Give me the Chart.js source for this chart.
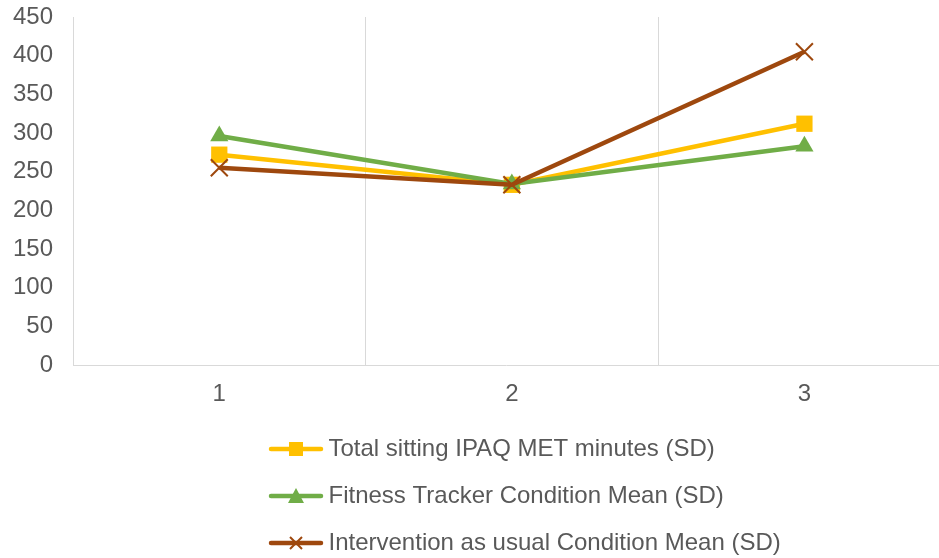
<!DOCTYPE html>
<html>
<head>
<meta charset="utf-8">
<script src="https://cdn.jsdelivr.net/npm/chart.js@4.4.0/dist/chart.umd.min.js"></script>
<style>
  html, body { margin: 0; padding: 0; background: #fff; overflow: hidden; }
  canvas { display: block; }
</style>
</head>
<body>
<canvas id="sittingChart" width="939" height="558"></canvas>
<script>
// chart data
const categories = [1, 2, 3];
const xLabels = ['1', '2', '3'];
const yTickStep = 50;
const yMax = 450;
const seriesNames = [
    'Total sitting IPAQ MET minutes (SD)',
    'Fitness Tracker Condition Mean (SD)',
    'Intervention as usual Condition Mean (SD)'
];
const totalSitting = [272, 233, 312];
const fitnessTracker = [296, 234, 283];
const interventionUsual = [255, 233, 405];

// styles
const seriesColors = ['#FFC000', '#70AD47', '#9E480E'];
const textColor = '#595959';
const lineColor = '#D9D9D9';
const clear = 'rgba(0,0,0,0)';

Chart.defaults.font.family = '"Liberation Sans", Arial, sans-serif';
Chart.defaults.font.size = 24;
Chart.defaults.color = textColor;

function toPoints(values) {
    return values.map((v, i) => ({ x: categories[i], y: v }));
}

// little line + marker pictures for the legend (Excel style)
function legendIcon(color, shape) {
    const c = document.createElement('canvas');
    c.width = 56;
    c.height = 20;
    const g = c.getContext('2d');
    g.strokeStyle = color;
    g.fillStyle = color;
    g.lineWidth = 4.5;
    g.lineCap = 'round';
    g.beginPath();
    g.moveTo(3, 10);
    g.lineTo(53, 10);
    g.stroke();
    if (shape === 'rect') {
        g.fillRect(21, 3, 14, 14);
    } else if (shape === 'triangle') {
        g.beginPath();
        g.moveTo(28, 2);
        g.lineTo(36, 17);
        g.lineTo(20, 17);
        g.closePath();
        g.fill();
    } else {
        g.lineWidth = 2;
        g.lineCap = 'butt';
        g.beginPath();
        g.moveTo(22, 4); g.lineTo(34, 16);
        g.moveTo(34, 4); g.lineTo(22, 16);
        g.stroke();
    }
    return c;
}

const pointShapes = ['rect', 'triangle', 'crossRot'];
const pointSizes = [11.5, 10.5, 12];
const legendIcons = seriesColors.map((col, i) => legendIcon(col, pointShapes[i]));

const seriesValues = [totalSitting, fitnessTracker, interventionUsual];
const datasets = seriesValues.map((vals, i) => ({
    label: seriesNames[i],
    data: toPoints(vals),
    borderColor: seriesColors[i],
    backgroundColor: seriesColors[i],
    borderWidth: 4.5,
    pointStyle: pointShapes[i],
    pointRadius: pointSizes[i],
    pointHoverRadius: pointSizes[i],
    pointBorderWidth: i === 2 ? 2 : 0,
    pointBorderColor: seriesColors[i],
    pointBackgroundColor: seriesColors[i],
    tension: 0,
    order: 2 - i
}));

// keep the legend rows starting at the same x, like the Excel legend
const legendX = 275.5;
const legendRows = {
    id: 'legendRows',
    beforeDraw(chart) {
        const lg = chart.legend;
        if (!lg || !lg.lineWidths) return;
        const pad = lg.options.labels.padding;
        const w = lg.left + lg.right + pad - 2 * legendX;
        lg.lineWidths = lg.lineWidths.map(() => w);
    }
};

const ctx = document.getElementById('sittingChart');
const sittingChart = new Chart(ctx, {
    type: 'line',
    data: { datasets: datasets },
    options: {
        responsive: false,
        animation: false,
        layout: {
            autoPadding: false,
            // negative bottom: the last legend row sits low, like in the Excel picture
            padding: { top: 17, left: 0, right: 0, bottom: -7 }
        },
        scales: {
            x: {
                type: 'linear',
                min: 0.5,
                max: 3.46,
                afterBuildTicks(scale) {
                    const t = [];
                    categories.forEach((c, i) => {
                        t.push({ value: c });
                        if (i < categories.length - 1) t.push({ value: c + 0.5 });
                    });
                    scale.ticks = t;
                },
                afterFit(scale) { scale.height = 49; },
                ticks: {
                    padding: 0,
                    maxRotation: 0,
                    autoSkip: false,
                    callback(value) {
                        const idx = categories.indexOf(value);
                        return idx >= 0 ? xLabels[idx] : '';
                    }
                },
                grid: {
                    drawTicks: true,
                    tickLength: 15,
                    tickColor: clear,
                    lineWidth: 1,
                    color(c) {
                        return c.tick && c.tick.value % 1 !== 0 ? lineColor : clear;
                    }
                },
                border: { display: true, color: lineColor, width: 1 }
            },
            y: {
                min: 0,
                max: yMax,
                afterFit(scale) { scale.width = 73; },
                ticks: { stepSize: yTickStep, padding: 0 },
                grid: { display: false, drawTicks: true, tickLength: 20 },
                border: { display: true, color: lineColor, width: 1 }
            }
        },
        plugins: {
            tooltip: { enabled: false },
            legend: {
                position: 'bottom',
                fullSize: false,
                labels: {
                    usePointStyle: true,
                    pointStyleWidth: 41,
                    padding: 23,
                    color: textColor,
                    generateLabels(chart) {
                        const items = Chart.defaults.plugins.legend.labels.generateLabels(chart);
                        items.sort((a, b) => a.datasetIndex - b.datasetIndex);
                        items.forEach(it => { it.pointStyle = legendIcons[it.datasetIndex]; });
                        return items;
                    }
                }
            }
        }
    },
    plugins: [legendRows]
});
</script>
</body>
</html>
